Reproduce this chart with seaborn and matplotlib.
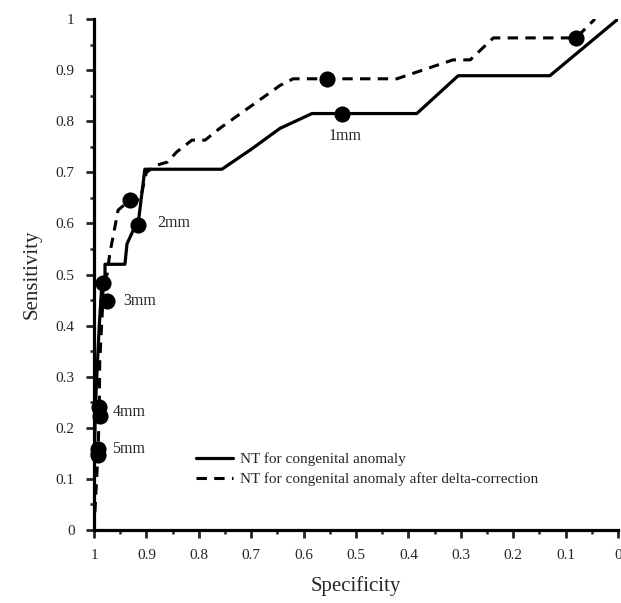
import matplotlib
matplotlib.use("Agg")
import matplotlib.pyplot as plt
from matplotlib.ticker import MultipleLocator
import seaborn as sns
import pandas as pd

# ---- data (specificity, sensitivity) ----
solid_spec = [1.0, 1.0, 0.997, 0.99, 0.985, 0.979, 0.979, 0.941, 0.937, 0.925, 0.916,
              0.903, 0.756, 0.70, 0.645, 0.584, 0.384, 0.305, 0.13, 0.0]
solid_sens = [0.0, 0.11, 0.25, 0.40, 0.48, 0.48, 0.52, 0.52, 0.56, 0.587, 0.597,
              0.706, 0.706, 0.745, 0.786, 0.815, 0.815, 0.889, 0.889, 1.0]

dash_spec = [1.0, 0.995, 0.992, 0.99, 0.989, 0.983, 0.983, 0.975, 0.97, 0.954, 0.931,
             0.912, 0.90, 0.88, 0.86, 0.842, 0.813, 0.788, 0.76, 0.645, 0.62, 0.422,
             0.315, 0.282, 0.238, 0.08, 0.044]
dash_sens = [0.0, 0.10, 0.16, 0.24, 0.33, 0.45, 0.483, 0.50, 0.54, 0.626, 0.646,
             0.646, 0.70, 0.714, 0.72, 0.74, 0.763, 0.763, 0.786, 0.87, 0.883, 0.883,
             0.92, 0.92, 0.963, 0.963, 1.0]

marker_spec = [0.555, 0.931, 0.983, 0.99, 0.993, 0.08,
               0.527, 0.916, 0.975, 0.988, 0.993]
marker_sens = [0.883, 0.646, 0.483, 0.24, 0.158, 0.963,
               0.815, 0.597, 0.448, 0.223, 0.147]

label_text = ["1mm", "2mm", "3mm", "4mm", "5mm"]
label_spec = [0.521, 0.88, 0.945, 0.964, 0.966]
label_sens = [0.772, 0.600, 0.448, 0.230, 0.158]

series_names = ["NT for congenital anomaly",
                "NT for congenital anomaly after delta-correction"]
x_ticks = [1.0, 0.9, 0.8, 0.7, 0.6, 0.5, 0.4, 0.3, 0.2, 0.1, 0.0]
x_tick_labels = ["1", "0.9", "0.8", "0.7", "0.6", "0.5", "0.4", "0.3", "0.2", "0.1", "0"]
y_ticks = [0.0, 0.1, 0.2, 0.3, 0.4, 0.5, 0.6, 0.7, 0.8, 0.9, 1.0]
y_tick_labels = ["0", "0.1", "0.2", "0.3", "0.4", "0.5", "0.6", "0.7", "0.8", "0.9", "1"]

# ---- style ----
sns.set_style("ticks")
plt.rcParams["font.family"] = ["Liberation Serif", "DejaVu Serif"]

fig = plt.figure(figsize=(6.21, 6.03), dpi=100)
ax = fig.add_axes([94 / 621, 73 / 603, 524 / 621, 511 / 603])

df_solid = pd.DataFrame({"spec": solid_spec, "sens": solid_sens})
df_dash = pd.DataFrame({"spec": dash_spec, "sens": dash_sens})
df_mark = pd.DataFrame({"spec": marker_spec, "sens": marker_sens})

sns.lineplot(data=df_solid, x="spec", y="sens", sort=False, estimator=None, ax=ax,
             color="black", linewidth=2.3, label=series_names[0])
sns.lineplot(data=df_dash, x="spec", y="sens", sort=False, estimator=None, ax=ax,
             color="black", linewidth=2.2, linestyle=(0, (3.4, 2.4)), label=series_names[1])
sns.scatterplot(data=df_mark, x="spec", y="sens", ax=ax, color="black", s=135,
                edgecolor="black", linewidth=0, zorder=5, clip_on=False)

for t, xs, ys in zip(label_text, label_spec, label_sens):
    ha = "center" if t == "1mm" else "left"
    ax.text(xs, ys, t, ha=ha, va="center", fontsize=11.5)

ax.set_xlim(1.0, 0.0)
ax.set_ylim(0.0, 1.0)
ax.set_xticks(x_ticks)
ax.set_xticklabels(x_tick_labels, fontsize=11)
ax.set_yticks(y_ticks)
ax.set_yticklabels(y_tick_labels, fontsize=11)
ax.xaxis.set_minor_locator(MultipleLocator(0.05))
ax.yaxis.set_minor_locator(MultipleLocator(0.05))
ax.tick_params(which="major", direction="out", length=6, width=2.0, pad=8)
ax.tick_params(which="minor", direction="out", length=3, width=1.8)

for side in ["top", "right"]:
    ax.spines[side].set_visible(False)
for side in ["left", "bottom"]:
    ax.spines[side].set_linewidth(2.3)
    ax.spines[side].set_color("black")

ax.set_xlabel("Specificity", fontsize=15, labelpad=10)
ax.set_ylabel("Sensitivity", fontsize=15, labelpad=10)

leg = ax.legend(loc="upper left", bbox_to_anchor=(0.195, 0.152), frameon=False,
                fontsize=11, handlelength=2.4, handletextpad=0.5,
                labelspacing=0.4, borderpad=0, borderaxespad=0)

fig.savefig("out.png", dpi=100)
